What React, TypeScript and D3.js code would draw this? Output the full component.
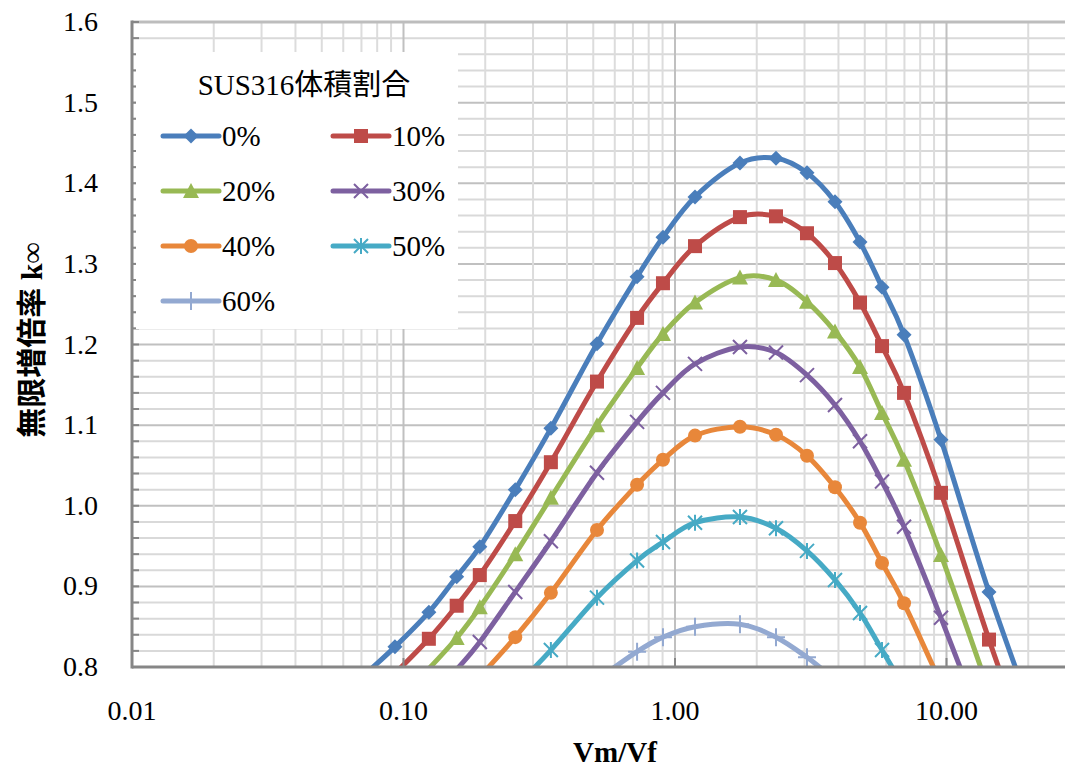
import React from 'react';
import * as d3 from 'd3';

// Vm/Vf values (shared by all series); first and last are off-chart, only shape the clipped curves
const xValues = [0.07, 0.093, 0.124, 0.157, 0.191, 0.258, 0.349, 0.516, 0.725, 0.903, 1.185, 1.735, 2.355, 3.063, 3.884, 4.802, 5.788, 6.976, 9.543, 14.34, 23];

const k0 = [0.787, 0.825, 0.868, 0.912, 0.949, 1.020, 1.096, 1.201, 1.284, 1.333, 1.383, 1.425, 1.431, 1.413, 1.377, 1.327, 1.271, 1.212, 1.082, 0.893, 0.70];
const k10 = [null, 0.792, 0.835, 0.876, 0.914, 0.981, 1.054, 1.154, 1.233, 1.276, 1.322, 1.358, 1.359, 1.338, 1.301, 1.252, 1.198, 1.140, 1.016, 0.834, 0.64];
const k20 = [null, null, 0.798, 0.836, 0.874, 0.940, 1.010, 1.100, 1.171, 1.213, 1.252, 1.283, 1.280, 1.253, 1.216, 1.172, 1.115, 1.057, 0.939, 0.77, null];
const k30 = [null, null, null, 0.797, 0.831, 0.893, 0.956, 1.041, 1.104, 1.140, 1.176, 1.197, 1.190, 1.162, 1.125, 1.080, 1.030, 0.974, 0.861, 0.706, null];
const k40 = [null, null, null, null, 0.788, 0.837, 0.892, 0.970, 1.026, 1.057, 1.087, 1.098, 1.088, 1.062, 1.023, 0.979, 0.929, 0.879, 0.779, null, null];
const k50 = [null, null, null, null, null, 0.775, 0.821, 0.886, 0.932, 0.955, 0.979, 0.986, 0.972, 0.944, 0.908, 0.867, 0.821, 0.775, null, null, null];
const k60 = [null, null, null, null, null, null, null, 0.784, 0.819, 0.837, 0.850, 0.853, 0.837, 0.812, 0.784, null, null, null, null, null, null];

const seriesNames = ['0%', '10%', '20%', '30%', '40%', '50%', '60%'];
const seriesValues = [k0, k10, k20, k30, k40, k50, k60];
const seriesColors = ['#4A7EBB', '#BE4B48', '#98B954', '#7D60A0', '#E8873A', '#46AAC5', '#93A9D1'];
const seriesMarkers = ['diamond', 'square', 'triangle', 'x', 'circle', 'star', 'plus'];

const yTicks = [0.8, 0.9, 1.0, 1.1, 1.2, 1.3, 1.4, 1.5, 1.6];
const xTickValues = [0.01, 0.1, 1, 10];
const xTickLabels = ['0.01', '0.10', '1.00', '10.00'];

const legendTitle = 'SUS316体積割合';
const xTitle = 'Vm/Vf';
const yTitle = '無限増倍率 k∞';

const W = 1065;
const H = 771;
const left = 132;
const top = 22;
const bottom = 667;
const font = "'Liberation Serif', 'Times New Roman', 'Noto Sans CJK JP', serif";

const x = d3.scaleLog().domain([0.01, 100]).range([left, left + 4 * 271.5]);
const y = d3.scaleLinear().domain([0.8, 1.6]).range([bottom, top]);

const Marker = ({ type, cx, cy, color }: { type: string; cx: number; cy: number; color: string }) => {
  const s = 7;
  switch (type) {
    case 'diamond':
      return <path d={`M${cx},${cy - s - 0.5} L${cx + s + 0.5},${cy} L${cx},${cy + s + 0.5} L${cx - s - 0.5},${cy} Z`} fill={color} />;
    case 'square':
      return <rect x={cx - s} y={cy - s} width={2 * s} height={2 * s} fill={color} />;
    case 'triangle':
      return <path d={`M${cx},${cy - s - 1} L${cx + s + 1},${cy + s} L${cx - s - 1},${cy + s} Z`} fill={color} />;
    case 'circle':
      return <circle cx={cx} cy={cy} r={s} fill={color} />;
    case 'x':
      return (
        <path d={`M${cx - s},${cy - s} L${cx + s},${cy + s} M${cx - s},${cy + s} L${cx + s},${cy - s}`}
          stroke={color} strokeWidth={2} />
      );
    case 'star':
      return (
        <path d={`M${cx - s},${cy - s} L${cx + s},${cy + s} M${cx - s},${cy + s} L${cx + s},${cy - s} M${cx},${cy - s - 1} L${cx},${cy + s + 1}`}
          stroke={color} strokeWidth={2} />
      );
    case 'plus':
      return (
        <path d={`M${cx},${cy - s - 2} L${cx},${cy + s + 2} M${cx - s - 2},${cy} L${cx + s + 2},${cy}`}
          stroke={color} strokeWidth={2} />
      );
    default:
      return null;
  }
};

const App = () => {
  // gridline positions
  const xGrid: number[] = [];
  for (let d = -2; d <= 1; d++) {
    for (let k = 1; k <= 9; k++) xGrid.push(k * Math.pow(10, d));
  }
  const yGrid = d3.range(0, 41).map(i => 0.8 + i * 0.02);

  const line = d3.line<[number, number]>()
    .x(d => x(d[0]))
    .y(d => y(d[1]))
    .curve(d3.curveCardinal.tension(0));

  const legendRows = [0, 0, 1, 1, 2, 2, 3];
  const legendCols = [0, 1, 0, 1, 0, 1, 0];

  return (
    <svg width={W} height={H} style={{ position: 'absolute', left: 0, top: 0, background: '#fff' }}
      fontFamily={font}>
      <defs>
        <clipPath id="plot">
          <rect x={left} y={top} width={W - left} height={bottom - top} />
        </clipPath>
      </defs>

      {/* gridlines */}
      <g clipPath="url(#plot)">
        {yGrid.map((v, i) => (
          <line key={'gy' + i} x1={left} x2={W} y1={y(v)} y2={y(v)}
            stroke={i % 5 === 0 ? '#c0c0c0' : '#d9d9d9'} strokeWidth={2} />
        ))}
        {xGrid.map((v, i) => (
          <line key={'gx' + i} x1={x(v)} x2={x(v)} y1={top} y2={bottom}
            stroke={i % 9 === 0 ? '#c0c0c0' : '#dcdcdc'} strokeWidth={2} />
        ))}
      </g>
      <line x1={left} x2={W} y1={top} y2={top} stroke="#bdbdbd" strokeWidth={3} />

      {/* series */}
      <g clipPath="url(#plot)">
        {seriesValues.map((vals, si) => {
          const pts = xValues.map((xv, i) => [xv, vals[i]] as [number, number | null])
            .filter(p => p[1] !== null) as [number, number][];
          return (
            <path key={'s' + si} d={line(pts) || ''} fill="none" stroke={seriesColors[si]}
              strokeWidth={5} strokeLinecap="round" strokeLinejoin="round" />
          );
        })}
        {seriesValues.map((vals, si) =>
          xValues.map((xv, i) => {
            const v = vals[i];
            if (v === null || v < 0.8) return null;
            return <Marker key={`m${si}-${i}`} type={seriesMarkers[si]} cx={x(xv)} cy={y(v)} color={seriesColors[si]} />;
          })
        )}
      </g>

      {/* axes */}
      <line x1={left} x2={left} y1={top - 1.5} y2={bottom + 1.5} stroke="#868686" strokeWidth={3} />
      <line x1={left} x2={W} y1={bottom} y2={bottom} stroke="#868686" strokeWidth={3} />
      {yGrid.map((v, i) => (
        <line key={'ty' + i} x1={left} x2={left + 7} y1={y(v)} y2={y(v)} stroke="#868686" strokeWidth={2} />
      ))}
      {xTickValues.map((v, i) => (
        <line key={'tx' + i} x1={x(v)} x2={x(v)} y1={bottom} y2={bottom - 9} stroke="#868686" strokeWidth={2} />
      ))}

      {/* tick labels */}
      {yTicks.map((v, i) => (
        <text key={'ly' + i} x={98} y={y(v) + 9} textAnchor="end" fontSize={28} fill="#000">
          {v.toFixed(1)}
        </text>
      ))}
      {xTickValues.map((v, i) => (
        <text key={'lx' + i} x={x(v)} y={720} textAnchor="middle" fontSize={28} fill="#000">
          {xTickLabels[i]}
        </text>
      ))}

      {/* axis titles */}
      <text x={615} y={762} textAnchor="middle" fontSize={29} fontWeight="bold">{xTitle}</text>
      <text transform="translate(42,340) rotate(-90)" textAnchor="middle" fontSize={30} fontWeight="bold">{yTitle}</text>

      {/* legend */}
      <rect x={136} y={52} width={322} height={277} fill="#fff" />
      <text x={304} y={95} textAnchor="middle" fontSize={29}>{legendTitle}</text>
      {seriesNames.map((name, si) => {
        const lx = legendCols[si] === 0 ? 163 : 333;
        const ly = 136 + legendRows[si] * 55;
        return (
          <g key={'lg' + si}>
            <line x1={lx} x2={lx + 56} y1={ly} y2={ly} stroke={seriesColors[si]} strokeWidth={5} strokeLinecap="round" />
            <Marker type={seriesMarkers[si]} cx={lx + 28} cy={ly} color={seriesColors[si]} />
            <text x={lx + 59} y={ly + 10} fontSize={29}>{name}</text>
          </g>
        );
      })}
    </svg>
  );
};

export default App;
